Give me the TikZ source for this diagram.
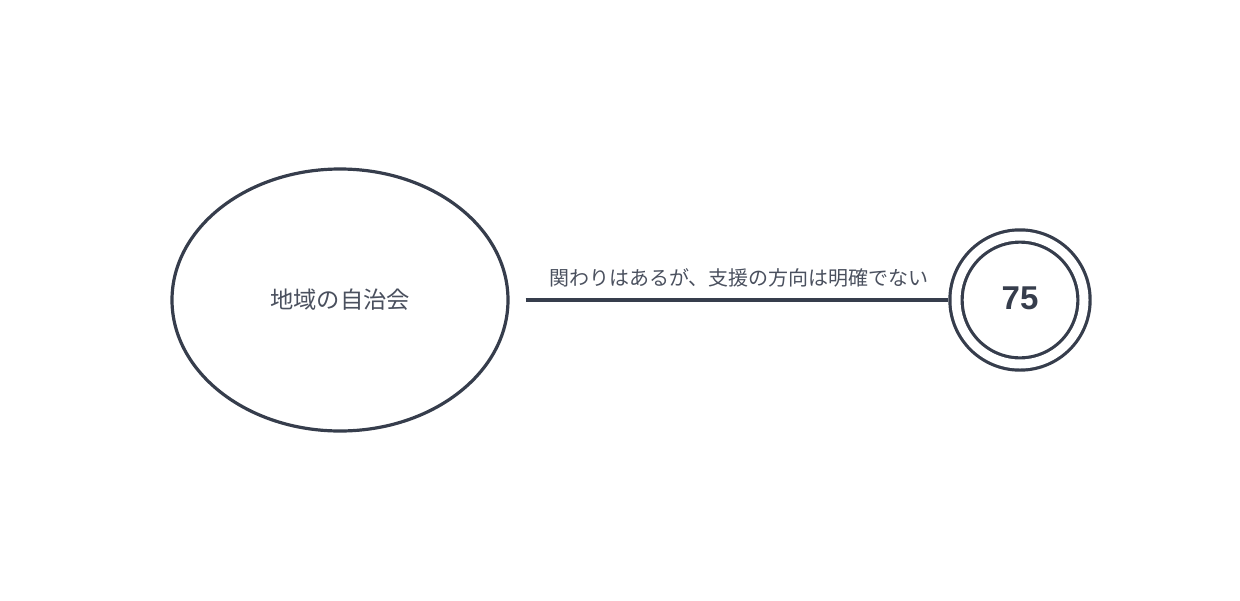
\documentclass[tikz,border=0pt]{standalone}
\usepackage{fontspec}
\usepackage{tikz}
\usetikzlibrary{shapes.geometric, positioning}
\newfontfamily\jpfont{Noto Sans CJK JP}
\newfontfamily\numfont{Liberation Sans}
\definecolor{slate}{HTML}{363D4C}
\definecolor{labelgray}{HTML}{4A505E}
\tikzset{
  group/.style={ellipse, draw=slate, line width=3.2pt, minimum width=336pt, minimum height=262pt, inner sep=0pt, text=labelgray, font=\jpfont\fontsize{23.3}{27}\selectfont},
  score/.style={circle, draw=slate, line width=3.2pt, double=white, double distance=9pt, minimum size=128pt, inner sep=0pt, text depth=4pt, text=slate, font=\numfont\bfseries\fontsize{33}{36}\selectfont},
  link/.style={draw=slate, line width=3.8pt},
  linklabel/.style={text=labelgray, font=\jpfont\fontsize{20}{24}\selectfont}
}
\begin{document}
\begin{tikzpicture}[x=1pt, y=1pt, node distance=680pt, on grid]
\useasboundingbox (0,0) rectangle (1240,-600);
\node[group] (jichikai) at (340,-300) {地域の自治会};
\node[score, right=of jichikai] (rating) {75};

% relation between the two
\draw[link, shorten <=16pt, shorten >=6pt] (jichikai) -- node[linklabel, above=8pt, xshift=7pt] {関わりはあるが、支援の方向は明確でない} (rating);
\end{tikzpicture}
\end{document}
